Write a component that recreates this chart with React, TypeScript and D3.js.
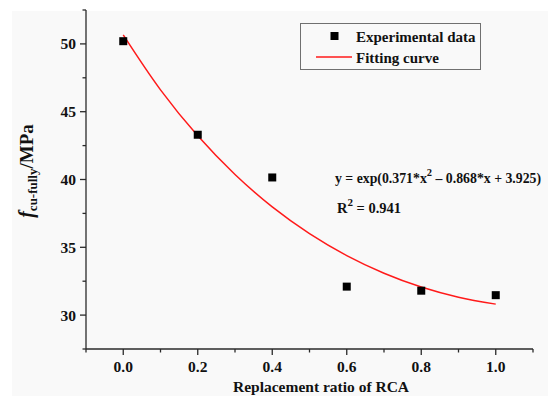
import * as d3 from "d3";

// experimental points
const ratios = [0, 0.2, 0.4, 0.6, 0.8, 1.0];
const strength = [50.2, 43.3, 40.15, 32.1, 31.8, 31.47];

// fitted curve
const fitRatios = [0, 0.1, 0.2, 0.3, 0.4, 0.5, 0.6, 0.7, 0.8, 0.9, 1.0];
const fitStrength = [50.66, 46.61, 43.22, 40.37, 37.98, 36.01, 34.39, 33.09, 32.07, 31.32, 30.81];

const xTicks = [0, 0.2, 0.4, 0.6, 0.8, 1.0];
const xMinor = [-0.1, 0.1, 0.3, 0.5, 0.7, 0.9, 1.1];
const yTicks = [30, 35, 40, 45, 50];
const yMinor = [27.5, 32.5, 37.5, 42.5, 47.5, 52.5];

const W = 548;
const H = 396;
const FONT = "'Liberation Serif', 'Times New Roman', serif";
const AXIS = "#2a2a2a";

export default function App() {
  const x = d3.scaleLinear().domain([-0.1, 1.1]).range([86, 533]);
  const y = d3.scaleLinear().domain([27.5, 52.5]).range([349, 10]);

  const fitLine = d3
    .line<number>()
    .x((d) => x(d))
    .y((_, i) => y(fitStrength[i]))
    .curve(d3.curveCatmullRom);

  const x0 = x.range()[0];
  const y0 = y.range()[0];

  return (
    <svg
      width={W}
      height={H}
      style={{ position: "fixed", left: 0, top: 0, fontFamily: FONT }}
    >
      <rect x={0} y={0} width={W} height={H} fill="#ffffff" />
      <rect x={12} y={11} width={W - 12} height={H - 11} fill="#f9f9f9" />

      {/* axes */}
      <line x1={x0} x2={x0} y1={y(52.5)} y2={y0} stroke={AXIS} strokeWidth={1.3} />
      <line x1={x0} x2={x.range()[1]} y1={y0} y2={y0} stroke={AXIS} strokeWidth={1.3} />

      {xTicks.map((t) => (
        <g key={"xt" + t}>
          <line x1={x(t)} x2={x(t)} y1={y0} y2={y0 + 6} stroke={AXIS} strokeWidth={1.3} />
          <text x={x(t)} y={372} textAnchor="middle" fontSize={15.5} fontWeight="bold" fill="#111">
            {d3.format(".1f")(t)}
          </text>
        </g>
      ))}
      {xMinor.map((t) => (
        <line key={"xm" + t} x1={x(t)} x2={x(t)} y1={y0} y2={y0 + 3.5} stroke={AXIS} strokeWidth={1.3} />
      ))}

      {yTicks.map((t) => (
        <g key={"yt" + t}>
          <line x1={x0 - 6} x2={x0} y1={y(t)} y2={y(t)} stroke={AXIS} strokeWidth={1.3} />
          <text x={76} y={y(t) + 5.5} textAnchor="end" fontSize={15.5} fontWeight="bold" fill="#111">
            {t}
          </text>
        </g>
      ))}
      {yMinor.map((t) => (
        <line key={"ym" + t} x1={x0 - 3.5} x2={x0} y1={y(t)} y2={y(t)} stroke={AXIS} strokeWidth={1.3} />
      ))}

      {/* axis titles */}
      <text x={321} y={392} textAnchor="middle" fontSize={15.5} fontWeight="bold" fill="#111">
        Replacement ratio of RCA
      </text>
      <text
        transform="translate(33,171) rotate(-90)"
        textAnchor="middle"
        fontWeight="bold"
        fill="#111"
      >
        <tspan fontStyle="italic" fontSize={20}>f</tspan>
        <tspan fontSize={13} dy={4}>cu-fully</tspan>
        <tspan fontSize={19} dy={-4}>/MPa</tspan>
      </text>

      {/* fitted curve */}
      <path d={fitLine(fitRatios) ?? ""} fill="none" stroke="#ff1a1a" strokeWidth={1.5} />

      {/* experimental data */}
      {ratios.map((r, i) => (
        <rect key={"p" + r} x={x(r) - 4} y={y(strength[i]) - 4} width={8} height={8} fill="#000" />
      ))}

      {/* legend */}
      <rect x={300.5} y={23.5} width={180} height={46} fill="none" stroke="#707070" strokeWidth={1} />
      <rect x={330.5} y={32} width={8} height={8} fill="#000" />
      <text x={356} y={42} fontSize={15} fontWeight="bold" fill="#111">Experimental data</text>
      <line x1={316} x2={352} y1={57} y2={57} stroke="#ff1a1a" strokeWidth={1.5} />
      <text x={356} y={63} fontSize={15} fontWeight="bold" fill="#111">Fitting curve</text>

      {/* equation */}
      <text x={335} y={183} fontSize={13.8} fontWeight="bold" fill="#111">
        y = exp(0.371*x
        <tspan fontSize={10.5} dy={-7}>2</tspan>
        <tspan dy={7}> – 0.868*x + 3.925)</tspan>
      </text>
      <text x={337} y={213} fontSize={14.5} fontWeight="bold" fill="#111">
        R<tspan fontSize={11} dy={-7}>2</tspan>
        <tspan dy={7}> = 0.941</tspan>
      </text>
    </svg>
  );
}
